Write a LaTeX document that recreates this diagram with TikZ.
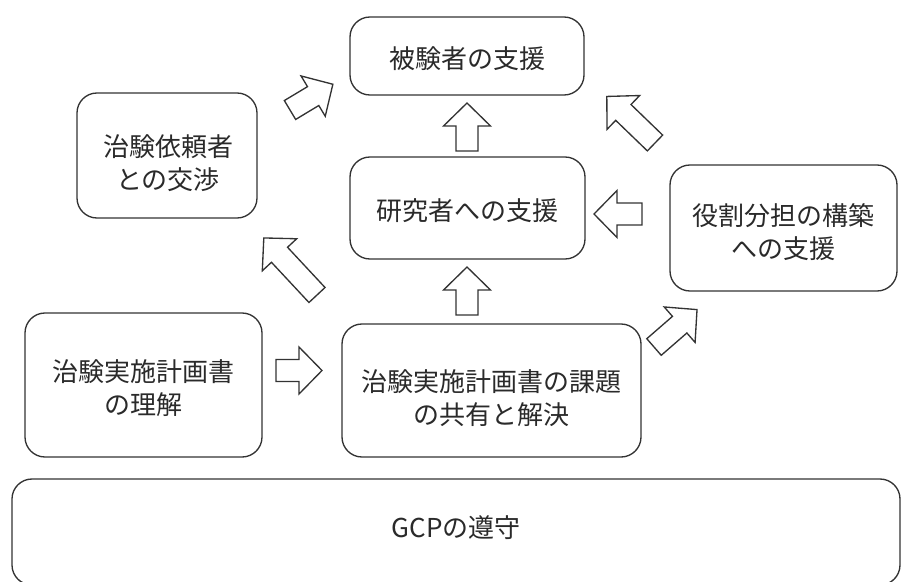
\documentclass[tikz,border=0pt]{standalone}
\usepackage{fontspec}
\setmainfont{Noto Sans CJK JP}
\definecolor{edge}{HTML}{333333}
\definecolor{ink}{HTML}{2a2a2a}
\tikzset{
  box/.style={draw=edge, line width=1pt, rounded corners=15pt, inner sep=0pt},
  lbl/.style={align=center, text=ink, font=\fontsize{19.5}{25}\selectfont, inner sep=0pt},
  barrowstyle/.style={draw=edge, line width=1pt, fill=white, line join=miter}
}
% \barrow{x}{y}{angle}{length}
\newcommand{\barrow}[4]{%
  \begin{scope}[shift={(#1,#2)}, rotate=#3]
    \draw[barrowstyle] (0,-11) -- ({#4-23},-11) -- ({#4-23},-23.5) -- (#4,0)
      -- ({#4-23},23.5) -- ({#4-23},11) -- (0,11) -- cycle;
  \end{scope}}
\begin{document}
\begin{tikzpicture}[x=0.75pt, y=-0.75pt]
\useasboundingbox (0,0) rectangle (905,581);
\node[box, minimum width={234*0.75pt}, minimum height={78*0.75pt}] (A) at (467,56) {};
\node[lbl] (At) at (467.5,59) {被験者の支援};
\node[box, minimum width={180*0.75pt}, minimum height={125*0.75pt}] (B) at (167,155.5) {};
\node[lbl] (Bt) at (168,163) {治験依頼者\\との交渉};
\node[box, minimum width={235*0.75pt}, minimum height={102*0.75pt}] (C) at (467.5,208) {};
\node[lbl] (Ct) at (467.5,211) {研究者への支援};
\node[box, minimum width={227*0.75pt}, minimum height={126*0.75pt}] (D) at (783.5,228) {};
\node[lbl] (Dt) at (783,232) {役割分担の構築\\への支援};
\node[box, minimum width={237*0.75pt}, minimum height={144*0.75pt}] (E) at (143.5,385) {};
\node[lbl] (Et) at (143.5,388) {治験実施計画書\\の理解};
\node[box, minimum width={299*0.75pt}, minimum height={133*0.75pt}] (F) at (491.5,390.5) {};
\node[lbl] (Ft) at (491.5,398) {治験実施計画書の課題\\の共有と解決};
\node[box, minimum width={888*0.75pt}, minimum height={106*0.75pt}] (G) at (456,532) {};
\node[lbl] (Gt) at (456,528) {GCPの遵守};
\barrow{467}{151}{90}{48}
\barrow{467}{315}{90}{48}
\barrow{642}{214}{180}{48}
\barrow{276}{370.5}{0}{46}
\barrow{290}{110}{31}{50}
\barrow{655}{143}{136}{67}
\barrow{317}{295}{133}{78}
\barrow{654}{347}{41}{57}
\end{tikzpicture}
\end{document}
